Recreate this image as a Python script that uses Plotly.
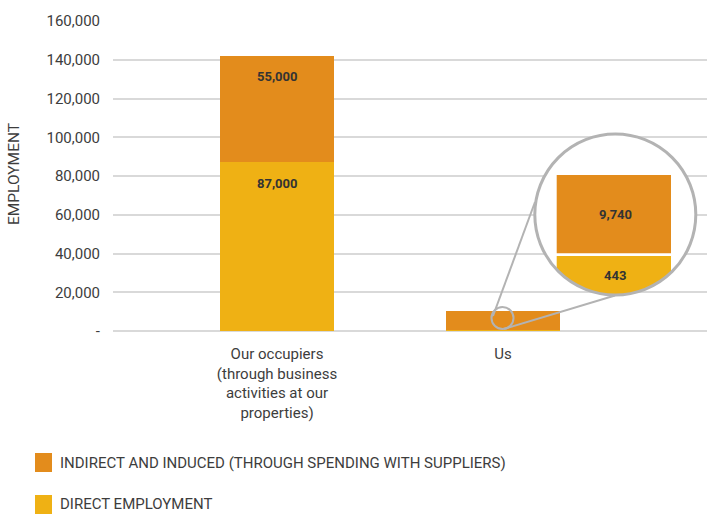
import numpy as np
import plotly.graph_objects as go

# ---- data ----
categories = ["Our occupiers<br>(through business<br>activities at our<br>properties)", "Us"]
direct = [87000, 443]
indirect = [55000, 9740]
series_names = ["INDIRECT AND INDUCED (THROUGH SPENDING WITH SUPPLIERS)", "DIRECT EMPLOYMENT"]
y_ticks = [0, 20000, 40000, 60000, 80000, 100000, 120000, 140000, 160000]
y_ticklabels = ["-" if v == 0 else f"{v:,}" for v in y_ticks]

ORANGE = "#E38C1C"
YELLOW = "#EFB114"
GREY = "#b3b3b3"
TXT = "#3d3d3d"
FONT = "Roboto"

W, H = 707, 517
L, R, T, B = 113, 0, 21, 186
PW, PH = W - L - R, H - T - B


def px(xp):
    return (xp - L) / PW


def py(yp):
    return (H - B - yp) / PH


xpos = list(range(len(categories)))

fig = go.Figure()
fig.add_trace(go.Bar(x=xpos, y=direct, name=series_names[1], marker_color=YELLOW,
                     width=0.504, marker_line_width=0, showlegend=False))
fig.add_trace(go.Bar(x=xpos, y=indirect, name=series_names[0], marker_color=ORANGE,
                     width=0.504, marker_line_width=0, showlegend=False))

annotations = []
shapes = []

# value labels in the first bar (top of each segment)
annotations.append(dict(x=0, y=direct[0], xref="x", yref="y", text=f"<b>{direct[0]:,}</b>",
                        showarrow=False, xanchor="center", yanchor="middle", yshift=-21,
                        font=dict(family=FONT, size=13, color="#333333")))
annotations.append(dict(x=0, y=direct[0] + indirect[0], xref="x", yref="y",
                        text=f"<b>{indirect[0]:,}</b>", showarrow=False, xanchor="center",
                        yanchor="middle", yshift=-21,
                        font=dict(family=FONT, size=13, color="#333333")))

# ---- magnifier decoration ----
cx, cy, r = 615.3, 214.5, 80.5
sx, sy, sr = 502.5, 318.0, 11.0
shapes.append(dict(type="circle", xref="paper", yref="paper",
                   x0=px(cx - r), x1=px(cx + r), y0=py(cy + r), y1=py(cy - r),
                   fillcolor="white", line=dict(width=0), layer="above"))
ix0, ix1 = 556.7, 671.0
shapes.append(dict(type="rect", xref="paper", yref="paper",
                   x0=px(ix0), x1=px(ix1), y0=py(253.3), y1=py(175.0),
                   fillcolor=ORANGE, line=dict(width=0), layer="above"))
a_right = np.arctan2(np.sqrt(r**2 - (ix1 - cx) ** 2), ix1 - cx)
a_left = np.arctan2(np.sqrt(r**2 - (ix0 - cx) ** 2), ix0 - cx)
angs = np.linspace(a_right, a_left, 40)
pts = [(ix0, 256.0), (ix1, 256.0)] + [(cx + r * np.cos(a), cy + r * np.sin(a)) for a in angs]
path = "M " + " L ".join(f"{px(a):.5f},{py(b):.5f}" for a, b in pts) + " Z"
shapes.append(dict(type="path", xref="paper", yref="paper", path=path,
                   fillcolor=YELLOW, line=dict(width=0), layer="above"))
shapes.append(dict(type="circle", xref="paper", yref="paper",
                   x0=px(cx - r), x1=px(cx + r), y0=py(cy + r), y1=py(cy - r),
                   line=dict(color=GREY, width=3), layer="above"))
shapes.append(dict(type="circle", xref="paper", yref="paper",
                   x0=px(sx - sr), x1=px(sx + sr), y0=py(sy + sr), y1=py(sy - sr),
                   line=dict(color=GREY, width=2), layer="above"))
for (x0, y0, x1, y1) in [(493.0, 316.0, 535.0, 202.0), (504.0, 329.0, 615.0, 295.5)]:
    shapes.append(dict(type="line", xref="paper", yref="paper",
                       x0=px(x0), y0=py(y0), x1=px(x1), y1=py(y1),
                       line=dict(color=GREY, width=2), layer="above"))

annotations.append(dict(x=px(cx), y=py(215.0), xref="paper", yref="paper",
                        text=f"<b>{indirect[1]:,}</b>", showarrow=False,
                        xanchor="center", yanchor="middle",
                        font=dict(family=FONT, size=13, color="#333333")))
annotations.append(dict(x=px(cx), y=py(275.5), xref="paper", yref="paper",
                        text=f"<b>{direct[1]:,}</b>", showarrow=False,
                        xanchor="center", yanchor="middle",
                        font=dict(family=FONT, size=13, color="#333333")))

# ---- y axis title ----
annotations.append(dict(x=px(14), y=py(174), xref="paper", yref="paper", text="EMPLOYMENT",
                        textangle=-90, showarrow=False, xanchor="center", yanchor="middle",
                        font=dict(family=FONT, size=15.5, color=TXT)))

# ---- manual legend ----
for i, (name, col) in enumerate(zip(series_names, [ORANGE, YELLOW])):
    yc = 462.5 + i * 42
    shapes.append(dict(type="rect", xref="paper", yref="paper",
                       x0=px(35), x1=px(52), y0=py(yc + 9.5), y1=py(yc - 9.5),
                       fillcolor=col, line=dict(width=0)))
    annotations.append(dict(x=px(58), y=py(yc), xref="paper", yref="paper", text=name,
                            xanchor="left", yanchor="middle", showarrow=False,
                            font=dict(family=FONT, size=15, color=TXT)))

fig.update_layout(
    barmode="stack",
    width=W, height=H,
    margin=dict(l=L, r=R, t=T, b=B),
    plot_bgcolor="white", paper_bgcolor="white",
    showlegend=False,
    shapes=shapes, annotations=annotations,
    xaxis=dict(range=[(L - 277) / 226, (W - 503) / 226 + 1], tickvals=xpos, ticktext=categories,
               showgrid=False, zeroline=False, showline=False, ticks="",
               tickfont=dict(family=FONT, size=15, color=TXT), ticklabelstandoff=12),
    yaxis=dict(range=[0, 160000], tickvals=y_ticks, ticktext=y_ticklabels,
               showgrid=True, gridcolor="#d9d9d9", gridwidth=1.5,
               zeroline=True, zerolinecolor="#d9d9d9", zerolinewidth=1.5, showline=False,
               ticks="", ticklabelstandoff=12,
               tickfont=dict(family=FONT, size=15, color=TXT)),
)

fig.write_html("out.html", config={"displayModeBar": False},
               post_script="document.body.style.margin='0';document.body.style.overflow='hidden';")
